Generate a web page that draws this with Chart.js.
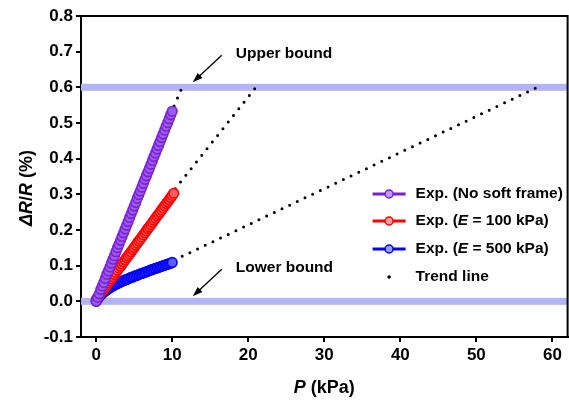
<!DOCTYPE html>
<html>
<head>
<meta charset="utf-8">
<script src="https://cdn.jsdelivr.net/npm/chart.js@4.4.0/dist/chart.umd.min.js"></script>
<style>
  html, body { margin: 0; padding: 0; background: #fff; overflow: hidden; }
  #wrap { width: 574px; height: 405px; position: relative; }
</style>
</head>
<body>
<div id="wrap"><canvas id="chart"></canvas></div>
<script>
const FONT = '"Liberation Sans", Arial, Helvetica, sans-serif';

// legend names, *...* is drawn italic
const seriesNames = ['Exp. (No soft frame)', 'Exp. (*E* = 100 kPa)', 'Exp. (*E* = 500 kPa)', 'Trend line'];
const seriesColors = ['#7a1fd6', '#ff0000', '#0000ff', '#000000'];
const markerFills = ['#9c5ce8', '#ff5e5e', '#5e5eff'];
const legendFills = ['#c49cf2', '#ff9c9c', '#9c9cff'];

// pressure readings (kPa) of the three experiments
const pressure = [0.0, 0.2, 0.4, 0.6, 0.8, 1.0, 1.2, 1.4, 1.6, 1.8, 2.0, 2.2, 2.4, 2.6, 2.8, 3.0, 3.2, 3.4, 3.6, 3.8, 4.0, 4.2, 4.4, 4.6, 4.8, 5.0, 5.2, 5.4, 5.6, 5.8, 6.0, 6.2, 6.4, 6.6, 6.8, 7.0, 7.2, 7.4, 7.6, 7.8, 8.0, 8.2, 8.4, 8.6, 8.8, 9.0, 9.2, 9.4, 9.6, 9.8, 10.0];
const pressureE100 = pressure.concat([10.2]);

// Exp. (No soft frame)
const noFrameR = [0.000, 0.011, 0.021, 0.033, 0.043, 0.053, 0.064, 0.076, 0.085, 0.096, 0.107, 0.118, 0.128, 0.139, 0.150, 0.160, 0.171, 0.182, 0.192, 0.203, 0.213, 0.224, 0.235, 0.246, 0.256, 0.267, 0.277, 0.289, 0.299, 0.309, 0.320, 0.331, 0.342, 0.352, 0.363, 0.373, 0.384, 0.395, 0.406, 0.416, 0.427, 0.437, 0.448, 0.459, 0.469, 0.480, 0.491, 0.501, 0.512, 0.523, 0.533];
// Exp. (E = 100 kPa)
const e100R = [0.005, 0.011, 0.017, 0.023, 0.028, 0.034, 0.040, 0.046, 0.052, 0.058, 0.063, 0.069, 0.075, 0.081, 0.087, 0.093, 0.098, 0.104, 0.110, 0.116, 0.122, 0.128, 0.133, 0.139, 0.145, 0.151, 0.157, 0.163, 0.169, 0.174, 0.180, 0.186, 0.192, 0.198, 0.204, 0.209, 0.215, 0.221, 0.227, 0.233, 0.239, 0.244, 0.250, 0.256, 0.262, 0.268, 0.274, 0.279, 0.285, 0.291, 0.297, 0.303];
// Exp. (E = 500 kPa)
const e500R = [0.000, 0.007, 0.013, 0.018, 0.022, 0.026, 0.029, 0.032, 0.035, 0.038, 0.041, 0.043, 0.046, 0.048, 0.050, 0.052, 0.054, 0.056, 0.058, 0.060, 0.061, 0.063, 0.065, 0.067, 0.068, 0.070, 0.072, 0.073, 0.075, 0.077, 0.078, 0.080, 0.081, 0.083, 0.084, 0.086, 0.088, 0.089, 0.091, 0.092, 0.094, 0.095, 0.097, 0.098, 0.100, 0.101, 0.103, 0.104, 0.106, 0.107, 0.109];

// trend lines: start / end points, one pair per series
const trendP = [[10.25, 11.3], [10.4, 21.0], [10.3, 58.0]];
const trendR = [[0.548, 0.600], [0.316, 0.600], [0.116, 0.600]];

// bounds
const boundValues = [0.6, 0.0];
const boundLabels = ['Upper bound', 'Lower bound'];
const boundArrowP = [12.7, 12.7];

const xTicks = [0, 10, 20, 30, 40, 50, 60];
const yTicks = [-0.1, 0.0, 0.1, 0.2, 0.3, 0.4, 0.5, 0.6, 0.7, 0.8];

const toPts = (xs, ys) => ys.map((y, i) => ({ x: xs[i], y: y }));

const expSets = [[pressure, noFrameR], [pressureE100, e100R], [pressure, e500R]].map((d, i) => ({
    label: seriesNames[i],
    data: toPts(d[0], d[1]),
    showLine: false,
    pointRadius: 4.8,
    pointBorderWidth: 1.6,
    borderColor: seriesColors[i],
    backgroundColor: markerFills[i],
    pointHoverRadius: 4.8
}));

const trendSets = trendP.map((xs, i) => ({
    label: seriesNames[3],
    data: toPts(xs, trendR[i]),
    showLine: true,
    pointRadius: 0,
    borderColor: '#000',
    borderWidth: 3,
    borderDash: [0, 8.5],
    borderCapStyle: 'round'
}));

// draws "a *b* c" with italic parts
function richText(ctx, str, x, y, size, align) {
    const parts = str.split('*');
    let w = 0;
    parts.forEach((p, i) => {
        ctx.font = (i % 2 ? 'italic ' : '') + 'bold ' + size + 'px ' + FONT;
        w += ctx.measureText(p).width;
    });
    let cx = align === 'center' ? x - w / 2 : x;
    ctx.textAlign = 'left';
    ctx.textBaseline = 'middle';
    parts.forEach((p, i) => {
        ctx.font = (i % 2 ? 'italic ' : '') + 'bold ' + size + 'px ' + FONT;
        ctx.fillText(p, cx, y);
        cx += ctx.measureText(p).width;
    });
}

const boundsPlugin = {
    id: 'bounds',
    beforeDatasetsDraw(chart) {
        const { ctx, chartArea: a, scales } = chart;
        ctx.save();
        ctx.fillStyle = '#b3b3f7';
        boundValues.forEach(v => {
            const y = scales.y.getPixelForValue(v);
            ctx.fillRect(a.left, y - 3.5, a.right - a.left, 7);
        });
        ctx.restore();
    },
    afterDatasetsDraw(chart) {
        const { ctx, chartArea: a, scales } = chart;
        ctx.save();
        // frame top / right
        ctx.strokeStyle = '#000';
        ctx.lineWidth = 2;
        ctx.beginPath();
        ctx.moveTo(a.left, a.top);
        ctx.lineTo(a.right, a.top);
        ctx.lineTo(a.right, a.bottom);
        ctx.stroke();

        // arrows + labels
        boundValues.forEach((v, i) => {
            const tx = scales.x.getPixelForValue(boundArrowP[i]);
            const ty = scales.y.getPixelForValue(v) - 5;
            const sx = tx + 29, sy = ty - 27;
            const ang = Math.atan2(ty - sy, tx - sx);
            ctx.strokeStyle = '#000';
            ctx.lineWidth = 1.3;
            ctx.beginPath();
            ctx.moveTo(sx, sy);
            ctx.lineTo(tx - 7 * Math.cos(ang), ty - 7 * Math.sin(ang));
            ctx.stroke();
            ctx.fillStyle = '#000';
            ctx.beginPath();
            ctx.moveTo(tx, ty);
            ctx.lineTo(tx - 10 * Math.cos(ang) + 3.5 * Math.sin(ang), ty - 10 * Math.sin(ang) - 3.5 * Math.cos(ang));
            ctx.lineTo(tx - 10 * Math.cos(ang) - 3.5 * Math.sin(ang), ty - 10 * Math.sin(ang) + 3.5 * Math.cos(ang));
            ctx.closePath();
            ctx.fill();
            richText(ctx, boundLabels[i], tx + 43, ty - 29, 15.5, 'left');
        });

        // legend
        const lx = a.right - 195, ly = a.top + 178;
        const rows = [0, 27, 55, 83];
        seriesNames.forEach((name, i) => {
            const y = ly + rows[i];
            if (i < 3) {
                ctx.strokeStyle = seriesColors[i];
                ctx.lineWidth = 3;
                ctx.beginPath();
                ctx.moveTo(lx, y);
                ctx.lineTo(lx + 33, y);
                ctx.stroke();
                ctx.fillStyle = legendFills[i];
                ctx.lineWidth = 1.5;
                ctx.beginPath();
                ctx.arc(lx + 16.5, y, 4, 0, Math.PI * 2);
                ctx.fill();
                ctx.stroke();
            } else {
                ctx.fillStyle = '#000';
                ctx.beginPath();
                ctx.arc(lx + 16.5, y, 1.8, 0, Math.PI * 2);
                ctx.fill();
            }
            ctx.fillStyle = '#000';
            richText(ctx, name, lx + 43, y, 15.5, 'left');
        });
        ctx.restore();
    },
    afterDraw(chart) {
        const { ctx, chartArea: a } = chart;
        ctx.save();
        ctx.fillStyle = '#000';
        richText(ctx, '*P* (kPa)', (a.left + a.right) / 2, 388, 18, 'center');
        ctx.translate(27, 188);
        ctx.rotate(-Math.PI / 2);
        richText(ctx, '*ΔR*/*R* (%)', 0, 0, 18, 'center');
        ctx.restore();
    }
};

new Chart(document.getElementById('chart'), {
    type: 'scatter',
    data: { datasets: expSets.concat(trendSets) },
    options: {
        responsive: true,
        maintainAspectRatio: false,
        animation: false,
        layout: { padding: { top: 16, right: 2, left: 0, bottom: 0 } },
        plugins: { legend: { display: false }, tooltip: { enabled: false } },
        scales: {
            x: {
                type: 'linear',
                min: -2,
                max: 62,
                afterBuildTicks: s => { s.ticks = xTicks.map(v => ({ value: v })); },
                afterFit: s => { s.height = 68; s.paddingLeft = 0; s.paddingRight = 0; },
                grid: { drawOnChartArea: false, drawTicks: true, tickLength: 5, color: '#000', lineWidth: 2 },
                border: { display: true, color: '#000', width: 2 },
                ticks: { color: '#000', padding: 3, font: { family: FONT, size: 17, weight: 'bold' }, maxRotation: 0 }
            },
            y: {
                type: 'linear',
                min: -0.1,
                max: 0.8,
                afterBuildTicks: s => { s.ticks = yTicks.map(v => ({ value: v })); },
                afterFit: s => { s.width = 81; s.paddingTop = 0; s.paddingBottom = 0; },
                grid: { drawOnChartArea: false, drawTicks: true, tickLength: 5, color: '#000', lineWidth: 2 },
                border: { display: true, color: '#000', width: 2 },
                ticks: { color: '#000', padding: 3, font: { family: FONT, size: 17, weight: 'bold' }, callback: v => v.toFixed(1) }
            }
        }
    },
    plugins: [boundsPlugin]
});
</script>
</body>
</html>
